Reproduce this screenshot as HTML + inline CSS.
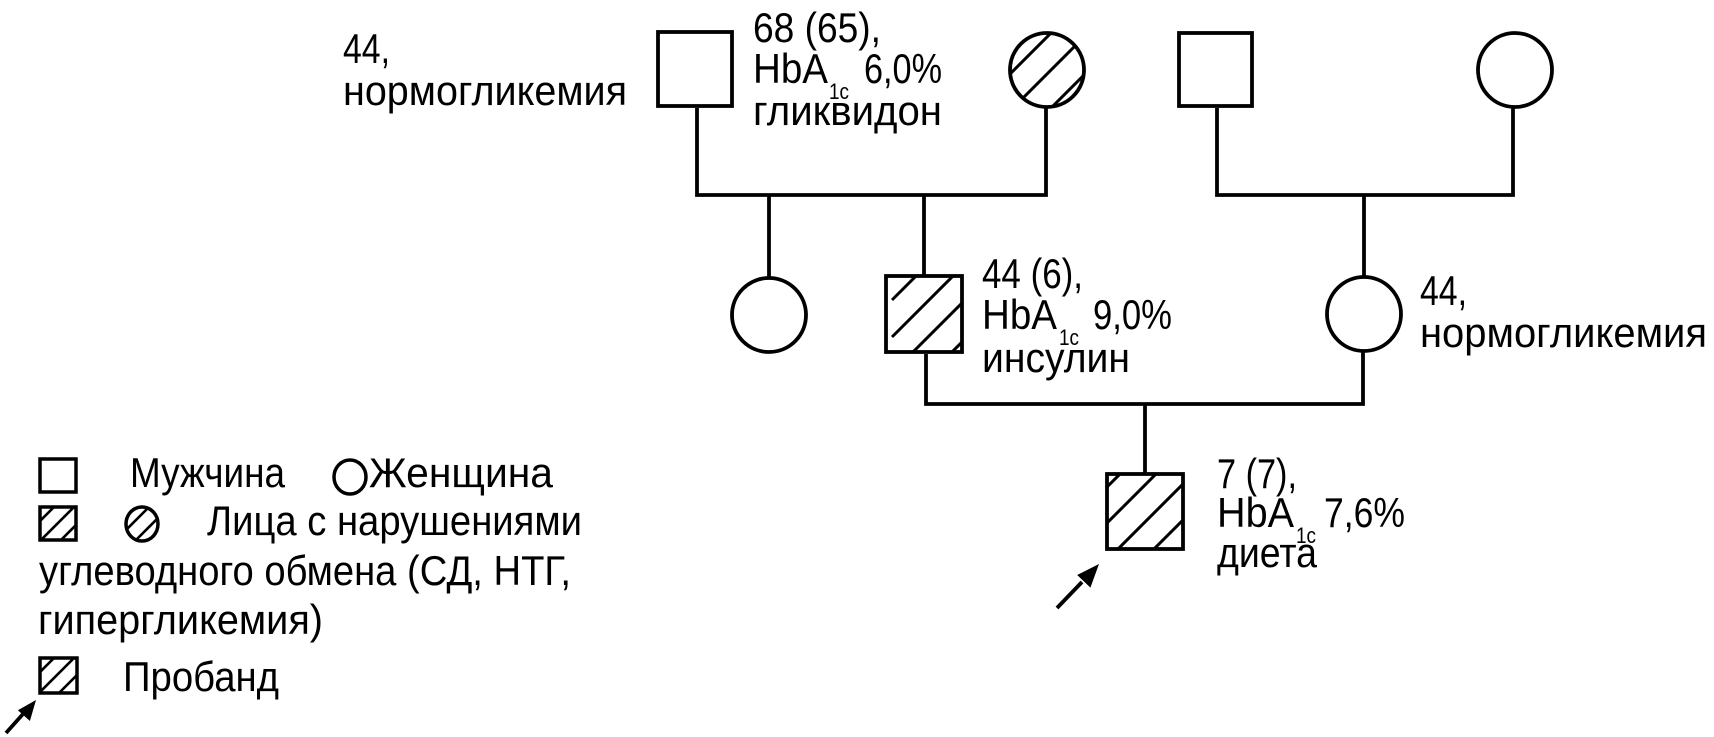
<!DOCTYPE html>
<html><head><meta charset="utf-8">
<style>
html,body{margin:0;padding:0;background:#fff;}
svg{display:block;}
text{font-family:"Liberation Sans","DejaVu Sans",sans-serif;font-size:42px;fill:#000;}
.sub{font-size:22px;}
</style></head>
<body>
<svg width="1714" height="737" viewBox="0 0 1714 737" xmlns="http://www.w3.org/2000/svg">
<defs>
  <clipPath id="cS3"><rect x="886" y="276" width="76" height="76"/></clipPath>
  <clipPath id="cS4"><rect x="1107" y="474" width="76" height="75"/></clipPath>
  <clipPath id="cC1"><circle cx="1047" cy="70" r="37"/></clipPath>
  <clipPath id="cLS"><rect x="40" y="507" width="36" height="33"/></clipPath>
  <clipPath id="cLC"><ellipse cx="142" cy="524" rx="16" ry="17"/></clipPath>
  <clipPath id="cLP"><rect x="40" y="658" width="37" height="35"/></clipPath>
</defs>
<rect width="1714" height="737" fill="#fff"/>

<g stroke="#000" stroke-width="3.8" fill="none" stroke-linecap="butt">
  <rect x="658" y="32" width="74" height="74" fill="#fff"/>
  <polyline points="697,108 697,195 1046,195 1046,108"/>
  <line x1="769" y1="195" x2="769" y2="278"/>
  <line x1="924" y1="195" x2="924" y2="276"/>
  <rect x="1179" y="33" width="73" height="73" fill="#fff"/>
  <circle cx="1515" cy="70" r="37" fill="#fff"/>
  <polyline points="1217,108 1217,195 1513,195 1513,108"/>
  <line x1="1364" y1="195" x2="1364" y2="277"/>
  <circle cx="769" cy="315" r="37" fill="#fff"/>
  <circle cx="1364" cy="314" r="37" fill="#fff"/>
  <polyline points="926,354 926,404 1363,404 1363,351"/>
  <line x1="1145" y1="404" x2="1145" y2="474"/>
</g>

<g stroke="#000" stroke-width="3" fill="none">
  <g clip-path="url(#cS3)">
    <line x1="892" y1="300" x2="1200" y2="-8"/>
    <line x1="892" y1="337" x2="1237" y2="-8"/>
    <line x1="892" y1="373" x2="1273" y2="-8"/>
    <line x1="892" y1="412" x2="1312" y2="-8"/>
  </g>
  <g clip-path="url(#cS4)">
    <line x1="1000" y1="594" x2="1300" y2="294"/>
    <line x1="1000" y1="630" x2="1300" y2="330"/>
    <line x1="1000" y1="667" x2="1300" y2="367"/>
    <line x1="1000" y1="703" x2="1300" y2="403"/>
  </g>
  <g clip-path="url(#cC1)">
    <line x1="900" y1="184" x2="1200" y2="-116"/>
    <line x1="900" y1="221" x2="1200" y2="-79"/>
    <line x1="900" y1="259" x2="1200" y2="-41"/>
  </g>
  <g clip-path="url(#cLS)" stroke-width="2.6">
    <line x1="0" y1="561" x2="100" y2="461"/>
    <line x1="0" y1="581" x2="100" y2="481"/>
    <line x1="0" y1="601" x2="100" y2="501"/>
  </g>
  <g clip-path="url(#cLC)" stroke-width="2.6">
    <line x1="100" y1="556" x2="200" y2="456"/>
    <line x1="100" y1="576" x2="200" y2="476"/>
  </g>
  <g clip-path="url(#cLP)" stroke-width="2.6">
    <line x1="0" y1="712" x2="100" y2="612"/>
    <line x1="0" y1="732" x2="100" y2="632"/>
    <line x1="0" y1="752" x2="100" y2="652"/>
  </g>
</g>

<g stroke="#000" stroke-width="3.8" fill="none">
  <rect x="886" y="276" width="76" height="76"/>
  <rect x="1107" y="474" width="76" height="75"/>
  <circle cx="1047" cy="70" r="37"/>
</g>

<g stroke="#000" stroke-width="3.5" fill="none">
  <rect x="40" y="459" width="36" height="33"/>
  <ellipse cx="350" cy="477" rx="16" ry="17"/>
  <rect x="40" y="507" width="36" height="33"/>
  <ellipse cx="142" cy="524" rx="16" ry="17"/>
  <rect x="40" y="658" width="37" height="35"/>
</g>

<g stroke="#000" stroke-width="3.8" fill="none">
  <line x1="1057" y1="608" x2="1082" y2="582"/>
  <line x1="6" y1="733" x2="23" y2="714"/>
</g>
<polygon points="1099,564 1090.4,587.6 1077.2,575.0" fill="#000"/>
<polygon points="36,700 29.9,721.0 17.9,710.2" fill="#000"/>

<text x="343" y="63" textLength="47" lengthAdjust="spacingAndGlyphs">44,</text>
<text x="343" y="105" textLength="284" lengthAdjust="spacingAndGlyphs">нормогликемия</text>

<text x="753" y="42" textLength="128" lengthAdjust="spacingAndGlyphs">68 (65),</text>
<text x="753" y="83" textLength="75" lengthAdjust="spacingAndGlyphs">HbA</text>
<text class="sub" x="829" y="99" textLength="20" lengthAdjust="spacingAndGlyphs">1c</text>
<text x="864" y="83" textLength="78" lengthAdjust="spacingAndGlyphs">6,0%</text>
<text x="753" y="125" textLength="189" lengthAdjust="spacingAndGlyphs">гликвидон</text>

<text x="982" y="288" textLength="101" lengthAdjust="spacingAndGlyphs">44 (6),</text>
<text x="982" y="329" textLength="75" lengthAdjust="spacingAndGlyphs">HbA</text>
<text class="sub" x="1059" y="345" textLength="20" lengthAdjust="spacingAndGlyphs">1c</text>
<text x="1093" y="329" textLength="79" lengthAdjust="spacingAndGlyphs">9,0%</text>
<text x="982" y="372" textLength="148" lengthAdjust="spacingAndGlyphs">инсулин</text>

<text x="1420" y="305" textLength="47" lengthAdjust="spacingAndGlyphs">44,</text>
<text x="1420" y="347" textLength="287" lengthAdjust="spacingAndGlyphs">нормогликемия</text>

<text x="1217" y="488" textLength="80" lengthAdjust="spacingAndGlyphs">7 (7),</text>
<text x="1217" y="527" textLength="77" lengthAdjust="spacingAndGlyphs">HbA</text>
<text class="sub" x="1296" y="543" textLength="20" lengthAdjust="spacingAndGlyphs">1c</text>
<text x="1324" y="527" textLength="81" lengthAdjust="spacingAndGlyphs">7,6%</text>
<text x="1217" y="567" textLength="100" lengthAdjust="spacingAndGlyphs">диета</text>

<text x="130" y="487" textLength="155" lengthAdjust="spacingAndGlyphs">Мужчина</text>
<text x="369" y="487" textLength="184" lengthAdjust="spacingAndGlyphs">Женщина</text>
<text x="207" y="535" textLength="375" lengthAdjust="spacingAndGlyphs">Лица с нарушениями</text>
<text x="39" y="585" textLength="532" lengthAdjust="spacingAndGlyphs">углеводного обмена (СД, НТГ,</text>
<text x="38" y="634" textLength="285" lengthAdjust="spacingAndGlyphs">гипергликемия)</text>
<text x="123" y="691" textLength="156" lengthAdjust="spacingAndGlyphs">Пробанд</text>
</svg>
</body></html>
